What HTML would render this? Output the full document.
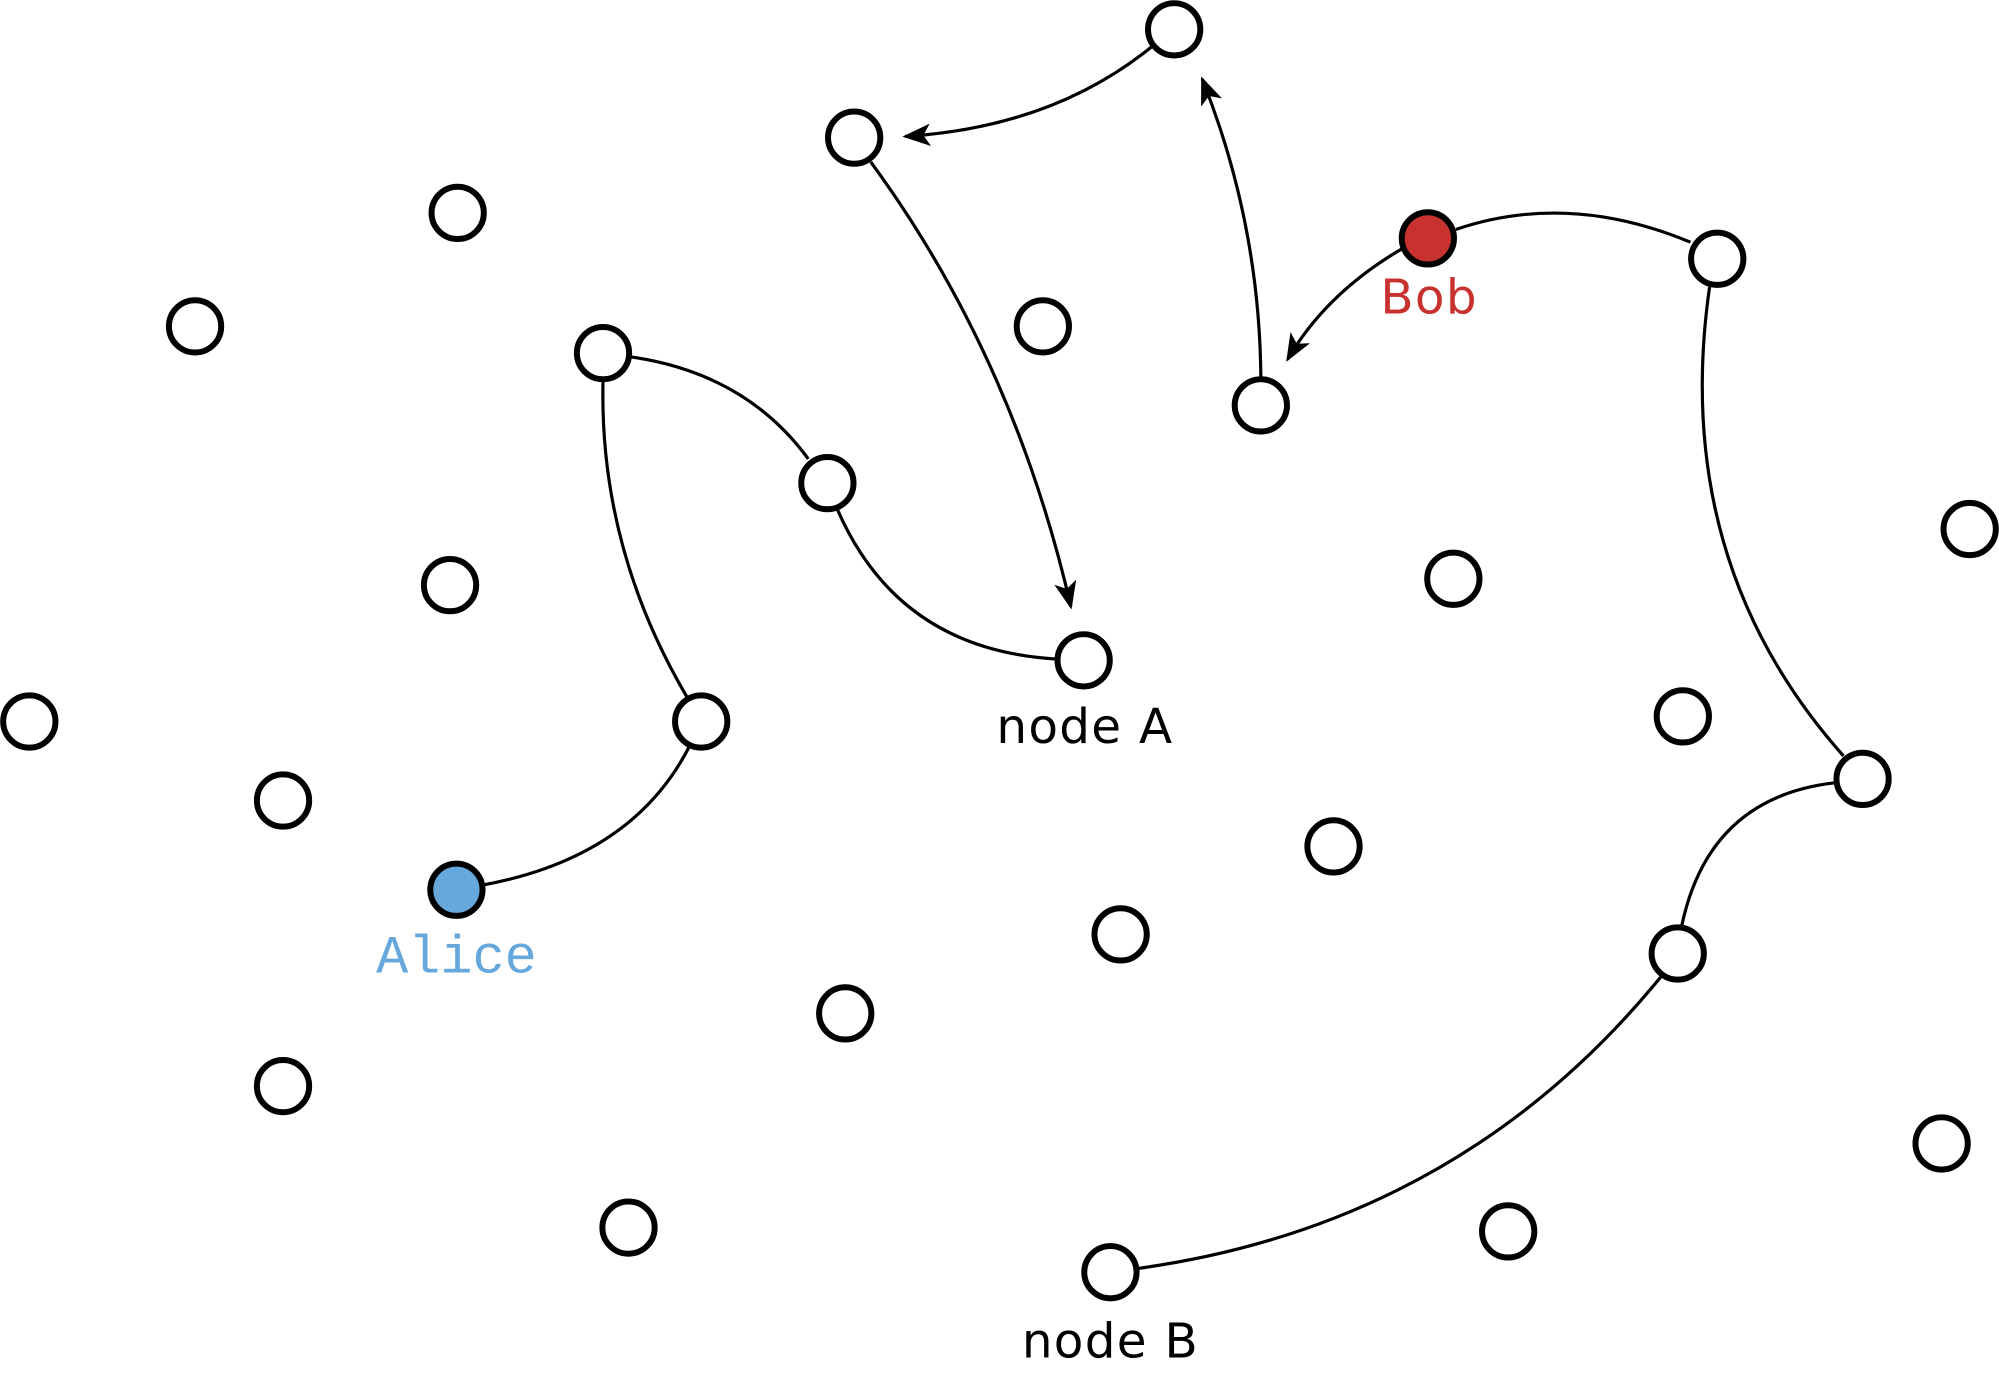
<!DOCTYPE html>
<html><head><meta charset="utf-8"><style>html,body{margin:0;padding:0;background:#fff}svg{display:block}</style></head>
<body>
<svg width="1999" height="1378" viewBox="0 0 1568 1081" preserveAspectRatio="none" xmlns="http://www.w3.org/2000/svg">
<defs>
<marker id="a" viewBox="0 0 20 16" refX="18" refY="8" markerWidth="22" markerHeight="18" markerUnits="userSpaceOnUse" orient="auto">
<path d="M0,0 L20,8 L0,16 L5,8 Z" fill="#000"/>
</marker>
</defs>
<g fill="none" stroke="#000" stroke-width="2.5">
<path d="M380,694 Q497,672 541,585"/>
<path d="M539,547 Q470,430 473,299"/>
<path d="M495,280 Q585,293 634,360"/>
<path d="M657,400 Q705,510 829,517"/>
<path d="M683,127 Q795,280 840,476" marker-end="url(#a)"/>
<path d="M903,37 Q825,100 710,107" marker-end="url(#a)"/>
<path d="M989,296 Q988,175 943,62" marker-end="url(#a)"/>
<path d="M1100,195 Q1040,230 1010,282" marker-end="url(#a)"/>
<path d="M1142,180 Q1230,150 1326,190"/>
<path d="M1341,225 Q1310,440 1446,593"/>
<path d="M1440,614 Q1340,625 1319,727"/>
<path d="M1303,766 Q1145,960 893,995"/>
</g>
<g fill="#fff" stroke="#000" stroke-width="4.7">
<circle cx="921" cy="23" r="20.5"/><circle cx="670" cy="108" r="20.5"/><circle cx="359" cy="167" r="20.5"/>
<circle cx="153" cy="256" r="20.5"/><circle cx="818" cy="256" r="20.5"/><circle cx="473" cy="277" r="20.5"/>
<circle cx="989" cy="318" r="20.5"/><circle cx="1347" cy="203" r="20.5"/><circle cx="649" cy="379" r="20.5"/>
<circle cx="1545" cy="415" r="20.5"/><circle cx="353" cy="459" r="20.5"/><circle cx="1140" cy="454" r="20.5"/>
<circle cx="850" cy="518" r="20.5"/><circle cx="23" cy="566" r="20.5"/><circle cx="550" cy="566" r="20.5"/>
<circle cx="1320" cy="562" r="20.5"/><circle cx="1461" cy="611" r="20.5"/><circle cx="222" cy="628" r="20.5"/>
<circle cx="1046" cy="664" r="20.5"/><circle cx="879" cy="733" r="20.5"/><circle cx="1316" cy="748" r="20.5"/>
<circle cx="663" cy="795" r="20.5"/><circle cx="222" cy="852" r="20.5"/><circle cx="1523" cy="897" r="20.5"/>
<circle cx="493" cy="963" r="20.5"/><circle cx="1183" cy="966" r="20.5"/><circle cx="871" cy="998" r="20.5"/>
<circle cx="1120" cy="187" r="20.5" fill="#c8322e"/>
<circle cx="358" cy="698" r="20.5" fill="#66a8dc"/>
</g>
<g font-family="'DejaVu Sans','Liberation Sans',sans-serif" font-size="38" font-weight="500" text-anchor="middle" letter-spacing="1">
<text x="851" y="583" fill="#000">node A</text>
<text x="871" y="1065" fill="#000">node B</text>
<text x="1121" y="246" fill="#c8322e">Bob</text>
<text x="358" y="763" fill="#66a8dc" font-family="'Liberation Mono','DejaVu Sans Mono',monospace" font-size="42" letter-spacing="0">Alice</text>
</g>
</svg>
</body></html>
